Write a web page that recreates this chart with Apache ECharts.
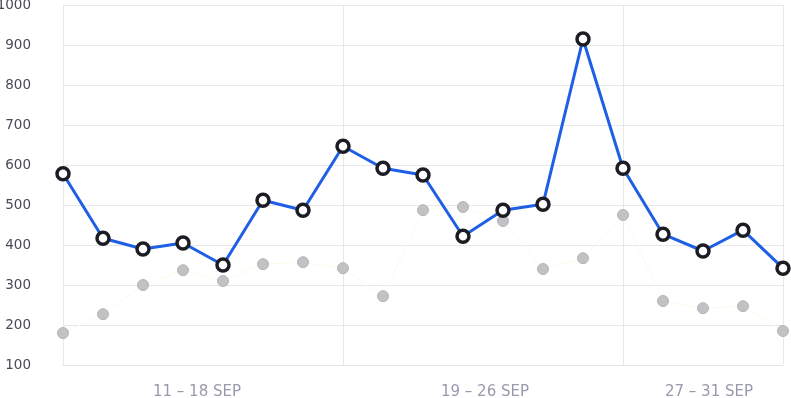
<!DOCTYPE html>
<html>
<head>
<meta charset="utf-8">
<script src="https://cdn.jsdelivr.net/npm/echarts@6/dist/echarts.min.js"></script>
<style>
  html, body { margin: 0; padding: 0; background: #fff; }
  #main { width: 791px; height: 398px; }
</style>
</head>
<body>
<div id="main"></div>
<script>
// 19 daily points
var points = ['1','2','3','4','5','6','7','8','9','10','11','12','13','14','15','16','17','18','19'];
var current = [578, 417, 390, 405, 350, 512, 487, 647, 592, 575, 422, 487, 502, 915, 592, 427, 385, 437, 342];
var previous = [180, 227, 300, 337, 310, 352, 357, 342, 272, 487, 495, 460, 340, 367, 475, 260, 242, 247, 185];
var periodLabels = ['11 – 18 SEP', '19 – 26 SEP', '27 – 31 SEP'];
var yTicks = [100, 200, 300, 400, 500, 600, 700, 800, 900, 1000];

// period boundaries (point index) and label slots on a 1/20-step axis
var boundaries = [0, 7, 14, 18];
var steps = 20;
var labelSlots = [67, 211, 323];
var fineSteps = [];
for (var i = 0; i <= (points.length - 1) * steps; i++) {
    var k = labelSlots.indexOf(i);
    fineSteps.push(k >= 0 ? periodLabels[k] : '');
}

var chart = echarts.init(document.getElementById('main'));
chart.setOption({
    animation: false,
    grid: { left: 63, right: 8, top: 5, bottom: 33, outerBoundsMode: 'none', containLabel: false },
    xAxis: [{
        type: 'category',
        data: points,
        boundaryGap: false,
        axisLine: { show: true, lineStyle: { color: '#e4e4e4', width: 1 } },
        axisTick: { show: false },
        axisLabel: { show: false },
        splitLine: {
            show: true,
            interval: function (idx) { return boundaries.indexOf(idx) >= 0; },
            lineStyle: { color: '#e8e8e8', width: 1 }
        }
    }, {
        type: 'category',
        data: fineSteps,
        position: 'bottom',
        boundaryGap: false,
        axisLine: { show: false },
        axisTick: { show: false },
        splitLine: { show: false },
        axisLabel: {
            interval: function (idx, val) { return val !== ''; },
            margin: 20,
            color: '#9a9aae',
            fontFamily: 'DejaVu Sans',
            fontSize: 15
        }
    }],
    yAxis: {
        type: 'value',
        min: yTicks[0],
        max: yTicks[yTicks.length - 1],
        interval: 100,
        axisLine: { show: false },
        axisTick: { show: false },
        axisLabel: {
            margin: 32,
            color: '#4a4a55',
            fontFamily: 'DejaVu Sans',
            fontSize: 13.5,
            formatter: function (v) { return String(v); }
        },
        splitLine: { lineStyle: { color: '#e8e8e8', width: 1 } }
    },
    series: [{
        name: 'previous',
        type: 'line',
        data: previous,
        z: 2,
        symbol: 'circle',
        symbolSize: 11,
        lineStyle: { color: '#fafaea', width: 1 },
        itemStyle: { color: '#c2c2c4', borderColor: '#b4b4b8', borderWidth: 1 }
    }, {
        name: 'current',
        type: 'line',
        data: current,
        z: 3,
        symbol: 'circle',
        symbolSize: 12,
        lineStyle: { color: '#1f5fe6', width: 3 },
        itemStyle: { color: '#ffffff', borderColor: '#1c1c24', borderWidth: 3.5 }
    }]
});
</script>
</body>
</html>
